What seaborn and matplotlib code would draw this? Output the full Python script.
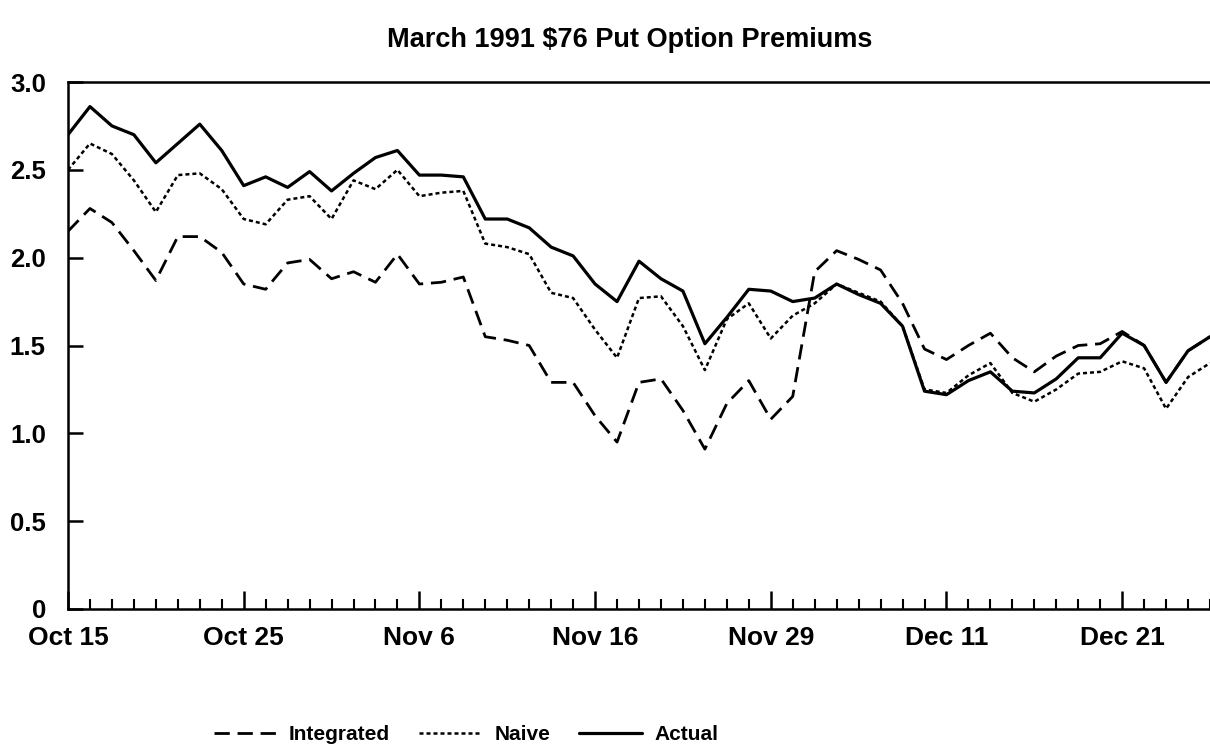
import numpy as np
import pandas as pd
import matplotlib
matplotlib.use("Agg")
import matplotlib.pyplot as plt
import seaborn as sns

# trading day index from Oct 15 1990
day = list(range(53))

actual = [2.70, 2.86, 2.75, 2.70, 2.54, 2.65, 2.76, 2.61, 2.41, 2.46,
          2.40, 2.49, 2.38, 2.48, 2.57, 2.61, 2.47, 2.47, 2.46, 2.22,
          2.22, 2.17, 2.06, 2.01, 1.85, 1.75, 1.98, 1.88, 1.81, 1.51,
          1.66, 1.82, 1.81, 1.75, 1.77, 1.85, 1.79, 1.74, 1.61, 1.24,
          1.22, 1.30, 1.35, 1.24, 1.23, 1.31, 1.43, 1.43, 1.57, 1.50,
          1.29, 1.47, 1.55]

naive = [2.50, 2.65, 2.59, 2.44, 2.26, 2.47, 2.48, 2.39, 2.22, 2.19,
         2.33, 2.35, 2.22, 2.44, 2.39, 2.50, 2.35, 2.37, 2.38, 2.08,
         2.06, 2.02, 1.80, 1.77, 1.59, 1.43, 1.77, 1.78, 1.61, 1.36,
         1.65, 1.74, 1.54, 1.67, 1.74, 1.85, 1.80, 1.75, 1.61, 1.25,
         1.23, 1.33, 1.40, 1.23, 1.18, 1.25, 1.34, 1.35, 1.41, 1.37,
         1.14, 1.32, 1.40]

integrated = [2.15, 2.28, 2.20, 2.04, 1.87, 2.12, 2.12, 2.03, 1.85, 1.82,
              1.97, 1.99, 1.88, 1.92, 1.86, 2.02, 1.85, 1.86, 1.89, 1.55,
              1.53, 1.50, 1.29, 1.29, 1.10, 0.95, 1.29, 1.31, 1.13, 0.91,
              1.17, 1.30, 1.08, 1.21, 1.92, 2.04, 1.99, 1.93, 1.74, 1.48,
              1.42, 1.50, 1.57, 1.43, 1.35, 1.44, 1.50, 1.51, 1.58, 1.50,
              1.29, 1.47, 1.55]

tick_days = [0, 8, 16, 24, 32, 40, 48]
tick_labels = ["Oct 15", "Oct 25", "Nov 6", "Nov 16", "Nov 29", "Dec 11", "Dec 21"]
y_ticks = [0, 0.5, 1.0, 1.5, 2.0, 2.5, 3.0]
y_labels = ["0", "0.5", "1.0", "1.5", "2.0", "2.5", "3.0"]

sns.set_style("ticks")
plt.rcParams['font.family'] = ['Liberation Sans', 'DejaVu Sans']
plt.rcParams['font.weight'] = 'bold'
plt.rcParams['text.color'] = 'black'
plt.rcParams['xtick.color'] = 'black'
plt.rcParams['ytick.color'] = 'black'

fig = plt.figure(figsize=(12.1, 7.51), dpi=100)
ax = fig.add_axes([68 / 1210, 1 - 609 / 751, (1210 - 68) / 1210, (609 - 82) / 751])

sns.lineplot(x=day, y=integrated, ax=ax, color="black", lw=2.0,
             linestyle=(0, (5.5, 2.8)), label="Integrated")
sns.lineplot(x=day, y=naive, ax=ax, color="black", lw=1.8,
             linestyle=(0, (1.6, 1.2)), label="Naive")
sns.lineplot(x=day, y=actual, ax=ax, color="black", lw=2.3,
             linestyle="-", label="Actual")

handles, labels = ax.get_legend_handles_labels()
if ax.get_legend() is not None:
    ax.get_legend().remove()

ax.set_xlim(0, (1210 - 68) / 22)
ax.set_ylim(0, 3.0)
ax.set_xlabel("")
ax.set_ylabel("")

ax.set_xticks(tick_days)
ax.set_xticklabels(tick_labels, fontsize=19, fontweight="bold", color="black")
ax.set_xticks(day, minor=True)
ax.set_yticks(y_ticks)
ax.set_yticklabels(y_labels, fontsize=18.5, fontweight="bold", color="black")

ax.tick_params(axis="x", which="major", direction="in", length=13, width=1.8, pad=12)
ax.tick_params(axis="x", which="minor", direction="in", length=7, width=1.5)
ax.tick_params(axis="y", which="major", direction="in", length=11, width=1.8, pad=16)

for side in ["left", "bottom", "top"]:
    ax.spines[side].set_linewidth(1.8)
    ax.spines[side].set_color("black")
ax.spines["right"].set_visible(False)

fig.text(630 / 1210, 1 - 40 / 751, "March 1991 \\$76 Put Option Premiums",
         ha="center", va="center", fontsize=19.5, fontweight="bold", color="black")

fig.legend(handles, labels, loc="center", bbox_to_anchor=(466 / 1210, 1 - 735 / 751),
           ncol=3, frameon=False, handlelength=3.0, columnspacing=1.4,
           handletextpad=0.6, prop={"size": 15, "weight": "bold"},
           labelcolor="black")

plt.savefig("out.png", dpi=100)
plt.close()
